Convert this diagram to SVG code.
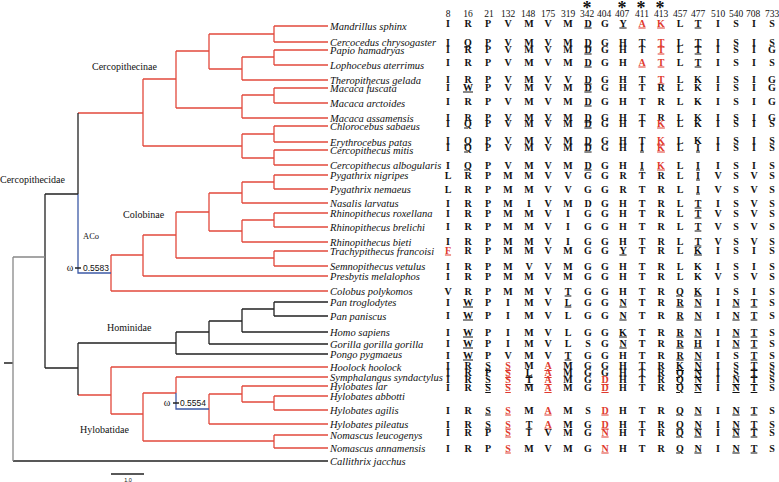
<svg xmlns="http://www.w3.org/2000/svg" width="779" height="482" viewBox="0 0 779 482">
<style>
.sp{font-family:"Liberation Serif",serif;font-style:italic;font-size:10.5px;fill:#111}
.cl{font-family:"Liberation Serif",serif;font-size:10px;fill:#111}
.hd{font-family:"Liberation Serif",serif;font-size:9.5px;fill:#111;text-anchor:middle}
.t{font-family:"Liberation Serif",serif;font-weight:bold;font-size:10px;fill:#111;text-anchor:middle}
.u{text-decoration:underline}
.r{fill:#e03a2e}
.om{font-family:"Liberation Serif",serif;font-size:10px;fill:#111;text-anchor:middle}
.nv{font-family:"Liberation Sans",sans-serif;font-size:8.5px;fill:#111}
.st{font-family:"Liberation Serif",serif;font-weight:bold;font-size:18px;fill:#111;text-anchor:middle}
.red{stroke:#e2493c;stroke-width:1.3;fill:none}
.blk{stroke:#222;stroke-width:1.3;fill:none}
.blu{stroke:#3d5aa6;stroke-width:1.3;fill:none}
.gry{stroke:#888;stroke-width:1.3;fill:none}
</style>

<g id="connectors">
<path class="red" d="M274,26H328M274,42H328M274,50H328M274,65H328M242,80H328M274,88H328M274,103H328M242,118H328M274,126H328M274,142H328M274,150H328M274,165H328
M274,26V42M274,50V65M242,57V80M209,34V69M274,88V103M242,95V118M176,51V108M274,126V142M274,150V165M242,134V158M143,79V146
M209,34H274M242,57H274M209,69H242M176,51H209M242,95H274M176,108H242M143,79H176M242,134H274M242,158H274M143,146H242M78,113H143"/>
<path class="red" d="M274,175H328M274,189H328M242,203H328M274,213H328M274,227H328M242,242H328M274,251H328M274,266H328M143,276H328M111,291H328
M274,175V189M242,182V203M274,213V227M242,220V242M209,193V231M274,251V266M176,212V258M143,235V276M111,255V291
M242,182H274M209,193H242M242,220H274M209,231H242M176,212H209M176,258H274M143,235H176M111,255H143"/>
<path class="red" d="M78,395H111M111,367V414M111,367H328M111,414H143M143,393V441M143,393H176M176,377V393M176,377H328M209,394V424M209,394H242M209,424H328M242,386V402M242,386H328M242,402H274M274,396V410M274,396H328M274,410H328M143,441H274M274,435V448M274,435H328M274,448H328"/>
<path class="blu" d="M78,194V273H111M176,393V409H209"/>
<path class="blk" d="M45,194H78M78,113V194M45,194V368M45,368H78M78,343V395M78,343H176
M274,302H328M274,316H328M242,332H328M209,344H328M176,354H328M274,302V316M242,309H274M242,309V332M209,321H242M209,321V344M176,332H209M176,332V354
M13,461H328M4,363H13M111,474H144"/>
<path class="gry" d="M13,257H45M13,257V461"/>
<path class="blk" d="M75,268H81M173,403H179"/>
</g>

<g id="annotations">
<text class="cl" x="92" y="70">Cercopithecinae</text>
<text class="cl" x="0" y="183">Cercopithecidae</text>
<text class="cl" x="123" y="218">Colobinae</text>
<text class="cl" x="83" y="239" style="font-size:8.5px">ACo</text>
<text class="cl" x="107" y="331">Hominidae</text>
<text class="cl" x="80" y="433">Hylobatidae</text>
<text class="om" x="70" y="271">ω</text>
<text class="nv" x="83" y="271">0.5583</text>
<text class="om" x="167" y="406">ω</text>
<text class="nv" x="180" y="406">0.5554</text>
<text class="nv" x="128" y="482" style="font-size:5.5px;text-anchor:middle">1.0</text>
</g>

<g id="header">
<text class="st" x="587" y="14">*</text>
<text class="st" x="622" y="14">*</text>
<text class="st" x="641" y="14">*</text>
<text class="st" x="660" y="14">*</text>
<text class="hd" x="448" y="17">8</text><text class="hd" x="468" y="17">16</text><text class="hd" x="489" y="17">21</text>
<text class="hd" x="508" y="17">132</text><text class="hd" x="528" y="17">148</text><text class="hd" x="548" y="17">175</text><text class="hd" x="568" y="17">319</text><text class="hd" x="587" y="17">342</text><text class="hd" x="604" y="17">404</text><text class="hd" x="622" y="17">407</text><text class="hd" x="642" y="17">411</text><text class="hd" x="661" y="17">413</text><text class="hd" x="680" y="17">457</text><text class="hd" x="698" y="17">477</text><text class="hd" x="718" y="17">510</text><text class="hd" x="736" y="17">540</text><text class="hd" x="753" y="17">708</text><text class="hd" x="772" y="17">733</text>
</g>

<g id="n1"><text class="sp" x="330" y="29.5">Mandrillus sphinx</text>
<text class="t" x="448 468 488 508 529 548 568 588 605 623 642 661 680 698 718 736 754 772" y="26.5">IRPVMVM<tspan class="u">D</tspan>G<tspan class="u">Y</tspan><tspan class="u r">AK</tspan>L<tspan class="u">T</tspan>ISIS</text></g>
<g id="n2"><text class="sp" x="330" y="45.5">Cercocedus chrysogaster</text>
<text class="t" x="448 468 488 508 529 548 568 588 605 623 642 661 680 698 718 736 754 772" y="45.5">I<tspan class="u">Q</tspan>PVMVM<tspan class="u">D</tspan>GHT<tspan class="u r">T</tspan>L<tspan class="u">T</tspan>ISIS</text></g>
<g id="n3"><text class="sp" x="330" y="53.5">Papio hamadryas</text>
<text class="t" x="448 468 488 508 529 548 568 588 605 623 642 661 680 698 718 736 754 772" y="52.5">IRPVMVM<tspan class="u">D</tspan>GHT<tspan class="u r">T</tspan>L<tspan class="u">T</tspan>ISIG</text></g>
<g id="n4"><text class="sp" x="330" y="68.5">Lophocebus aterrimus</text>
<text class="t" x="448 468 488 508 529 548 568 588 605 623 642 661 680 698 718 736 754 772" y="65.5">IRPVMVM<tspan class="u">D</tspan>GH<tspan class="u r">AT</tspan>L<tspan class="u">T</tspan>ISIS</text></g>
<g id="n5"><text class="sp" x="330" y="83.5">Theropithecus gelada</text>
<text class="t" x="448 468 488 508 529 548 568 588 605 623 642 661 680 698 718 736 754 772" y="82.5">IRPVMVV<tspan class="u">D</tspan>GHT<tspan class="u r">T</tspan>LKISIG</text></g>
<g id="n6"><text class="sp" x="330" y="91.5">Macaca fuscata</text>
<text class="t" x="448 468 488 508 529 548 568 588 605 623 642 661 680 698 718 736 754 772" y="90.5">I<tspan class="u">W</tspan>PVMVM<tspan class="u">D</tspan>GHTRLKISIG</text></g>
<g id="n7"><text class="sp" x="330" y="106.5">Macaca arctoides</text>
<text class="t" x="448 468 488 508 529 548 568 588 605 623 642 661 680 698 718 736 754 772" y="104.5">IRPVMVM<tspan class="u">D</tspan>GHTRLKISIG</text></g>
<g id="n8"><text class="sp" x="330" y="121.5">Macaca assamensis</text>
<text class="t" x="448 468 488 508 529 548 568 588 605 623 642 661 680 698 718 736 754 772" y="120.5">IRPVMVM<tspan class="u">D</tspan>GHTRLKISIG</text></g>
<g id="n9"><text class="sp" x="330" y="129.5">Chlorocebus sabaeus</text>
<text class="t" x="448 468 488 508 529 548 568 588 605 623 642 661 680 698 718 736 754 772" y="126.5">I<tspan class="u">Q</tspan>PVMVM<tspan class="u">D</tspan>GHT<tspan class="u r">K</tspan>LKISIS</text></g>
<g id="n10"><text class="sp" x="330" y="145.5">Erythrocebus patas</text>
<text class="t" x="448 468 488 508 529 548 568 588 605 623 642 661 680 698 718 736 754 772" y="143.5">I<tspan class="u">Q</tspan>PVMVM<tspan class="u">D</tspan>GHT<tspan class="u r">K</tspan>LKISIS</text></g>
<g id="n11"><text class="sp" x="330" y="153.5">Cercopithecus mitis</text>
<text class="t" x="448 468 488 508 529 548 568 588 605 623 642 661 680 698 718 736 754 772" y="150.5">I<tspan class="u">Q</tspan>PVMVM<tspan class="u">D</tspan>GH<tspan class="u">I</tspan><tspan class="u r">K</tspan>L<tspan class="u">I</tspan>ISIS</text></g>
<g id="n12"><text class="sp" x="330" y="168.5">Cercopithecus albogularis</text>
<text class="t" x="448 468 488 508 529 548 568 588 605 623 642 661 680 698 718 736 754 772" y="168.5">I<tspan class="u">Q</tspan>PVMVM<tspan class="u">D</tspan>GH<tspan class="u">I</tspan><tspan class="u r">K</tspan>L<tspan class="u">I</tspan>ISIS</text></g>
<g id="n13"><text class="sp" x="330" y="178.5">Pygathrix nigripes</text>
<text class="t" x="448 468 488 508 529 548 568 588 605 623 642 661 680 698 718 736 754 772" y="178.5">LRPMMVVGGRTRL<tspan class="u">I</tspan>VSVS</text></g>
<g id="n14"><text class="sp" x="330" y="192.5">Pygathrix nemaeus</text>
<text class="t" x="448 468 488 508 529 548 568 588 605 623 642 661 680 698 718 736 754 772" y="192.5">LRPMMVVGGRTRL<tspan class="u">I</tspan>VSVS</text></g>
<g id="n15"><text class="sp" x="330" y="206.5">Nasalis larvatus</text>
<text class="t" x="448 468 488 508 529 548 568 588 605 623 642 661 680 698 718 736 754 772" y="206.5">IRPMIVMDGHTRL<tspan class="u">T</tspan>ISVS</text></g>
<g id="n16"><text class="sp" x="330" y="216.5">Rhinopithecus roxellana</text>
<text class="t" x="448 468 488 508 529 548 568 588 605 623 642 661 680 698 718 736 754 772" y="216.5">IRPMMVIGGHTRL<tspan class="u">T</tspan>VSVS</text></g>
<g id="n17"><text class="sp" x="330" y="230.5">Rhinopithecus brelichi</text>
<text class="t" x="448 468 488 508 529 548 568 588 605 623 642 661 680 698 718 736 754 772" y="229.5">IRPMMVIGGHTRL<tspan class="u">T</tspan>VSVS</text></g>
<g id="n18"><text class="sp" x="330" y="245.5">Rhinopithecus bieti</text>
<text class="t" x="448 468 488 508 529 548 568 588 605 623 642 661 680 698 718 736 754 772" y="244.5">IRPMMVIGGHTRL<tspan class="u">T</tspan>VSVS</text></g>
<g id="n19"><text class="sp" x="330" y="254.5">Trachypithecus francoisi</text>
<text class="t" x="448 468 488 508 529 548 568 588 605 623 642 661 680 698 718 736 754 772" y="253.5"><tspan class="u r">F</tspan>RPMMVMGG<tspan class="u">Y</tspan>TRL<tspan class="u">K</tspan>ISIS</text></g>
<g id="n20"><text class="sp" x="330" y="269.5">Semnopithecus vetulus</text>
<text class="t" x="448 468 488 508 529 548 568 588 605 623 642 661 680 698 718 736 754 772" y="269.5">IRPMVVMGGHTRLKISIS</text></g>
<g id="n21"><text class="sp" x="330" y="279.5">Presbytis melalophos</text>
<text class="t" x="448 468 488 508 529 548 568 588 605 623 642 661 680 698 718 736 754 772" y="279.5">IRPMMVMGGHTRLKVSVS</text></g>
<g id="n22"><text class="sp" x="330" y="294.5">Colobus polykomos</text>
<text class="t" x="448 468 488 508 529 548 568 588 605 623 642 661 680 698 718 736 754 772" y="294.5">VRPMMV<tspan class="u">T</tspan>GGHTR<tspan class="u">QK</tspan>ISIS</text></g>
<g id="n23"><text class="sp" x="330" y="305.5">Pan troglodytes</text>
<text class="t" x="448 468 488 508 529 548 568 588 605 623 642 661 680 698 718 736 754 772" y="305.5">I<tspan class="u">W</tspan>PIMV<tspan class="u">L</tspan>GG<tspan class="u">N</tspan>TR<tspan class="u">RN</tspan>I<tspan class="u">NT</tspan>S</text></g>
<g id="n24"><text class="sp" x="330" y="319.5">Pan paniscus</text>
<text class="t" x="448 468 488 508 529 548 568 588 605 623 642 661 680 698 718 736 754 772" y="318.5">I<tspan class="u">W</tspan>PIMVLGG<tspan class="u">N</tspan>TR<tspan class="u">RN</tspan>I<tspan class="u">NT</tspan>S</text></g>
<g id="n25"><text class="sp" x="330" y="335.5">Homo sapiens</text>
<text class="t" x="448 468 488 508 529 548 568 588 605 623 642 661 680 698 718 736 754 772" y="335.5">I<tspan class="u">W</tspan>PIMVLGG<tspan class="u">K</tspan>TR<tspan class="u">RN</tspan>I<tspan class="u">NT</tspan>S</text></g>
<g id="n26"><text class="sp" x="330" y="347.5">Gorilla gorilla gorilla</text>
<text class="t" x="448 468 488 508 529 548 568 588 605 623 642 661 680 698 718 736 754 772" y="346.5">I<tspan class="u">W</tspan>PIMVLSG<tspan class="u">N</tspan>TR<tspan class="u">RH</tspan>I<tspan class="u">NT</tspan>S</text></g>
<g id="n27"><text class="sp" x="330" y="357.5">Pongo pygmaeus</text>
<text class="t" x="448 468 488 508 529 548 568 588 605 623 642 661 680 698 718 736 754 772" y="358.5">I<tspan class="u">W</tspan>PVMV<tspan class="u">T</tspan>GGHTR<tspan class="u">RN</tspan>IS<tspan class="u">T</tspan>S</text></g>
<g id="n28"><text class="sp" x="330" y="370.5">Hoolock hoolock</text>
<text class="t" x="448 468 488 508 529 548 568 588 605 623 642 661 680 698 718 736 754 772" y="369">IR<tspan class="u">S</tspan><tspan class="u r">S</tspan>M<tspan class="u r">A</tspan>MGGHTR<tspan class="u">KN</tspan>IS<tspan class="u">T</tspan>S</text></g>
<g id="n29"><text class="sp" x="330" y="380.5">Symphalangus syndactylus</text>
<text class="t" x="448 468 488 508 529 548 568 588 605 623 642 661 680 698 718 736 754 772" y="376">IRP<tspan class="u r">S</tspan><tspan class="u">L</tspan><tspan class="u r">A</tspan>MGGHTR<tspan class="u">QN</tspan>IS<tspan class="u">T</tspan>S</text></g>
<g id="n30"><text class="sp" x="330" y="389.5">Hylobates lar</text>
<text class="t" x="448 468 488 508 529 548 568 588 605 623 642 661 680 698 718 736 754 772" y="383">IR<tspan class="u">S</tspan><tspan class="u r">S</tspan><tspan class="u">T</tspan><tspan class="u r">A</tspan>MG<tspan class="u r">D</tspan>HTR<tspan class="u">QN</tspan>I<tspan class="u">NT</tspan>S</text></g>
<g id="n31"><text class="sp" x="330" y="399.5">Hylobates abbotti</text>
<text class="t" x="448 468 488 508 529 548 568 588 605 623 642 661 680 698 718 736 754 772" y="391">IR<tspan class="u">S</tspan><tspan class="u r">S</tspan>M<tspan class="u r">A</tspan>MG<tspan class="u r">D</tspan>HTR<tspan class="u">QN</tspan>I<tspan class="u">NT</tspan>S</text></g>
<g id="n32"><text class="sp" x="330" y="413.5">Hylobates agilis</text>
<text class="t" x="448 468 488 508 529 548 568 588 605 623 642 661 680 698 718 736 754 772" y="413.5">IR<tspan class="u">S</tspan><tspan class="u r">S</tspan>M<tspan class="u r">A</tspan>MS<tspan class="u r">D</tspan>HTR<tspan class="u">QN</tspan>I<tspan class="u">NT</tspan>S</text></g>
<g id="n33"><text class="sp" x="330" y="427.5">Hylobates pileatus</text>
<text class="t" x="448 468 488 508 529 548 568 588 605 623 642 661 680 698 718 736 754 772" y="427.5">IR<tspan class="u">S</tspan><tspan class="u r">S</tspan><tspan class="u">T</tspan><tspan class="u r">A</tspan>MG<tspan class="u r">D</tspan>HTR<tspan class="u">QN</tspan>I<tspan class="u">NT</tspan>S</text></g>
<g id="n34"><text class="sp" x="330" y="438.5">Nomascus leucogenys</text>
<text class="t" x="448 468 488 508 529 548 568 588 605 623 642 661 680 698 718 736 754 772" y="435.5">IRP<tspan class="u r">S</tspan>IVMG<tspan class="u r">N</tspan>HTR<tspan class="u">QN</tspan>I<tspan class="u">NT</tspan>S</text></g>
<g id="n35"><text class="sp" x="330" y="451.5">Nomascus annamensis</text>
<text class="t" x="448 468 488 508 529 548 568 588 605 623 642 661 680 698 718 736 754 772" y="451.5">IRP<tspan class="u r">S</tspan>MVMG<tspan class="u r">N</tspan>HTR<tspan class="u">QN</tspan>I<tspan class="u">NT</tspan>S</text></g>
<g id="n36"><text class="sp" x="330" y="464.5">Callithrix jacchus</text></g>
</svg>
